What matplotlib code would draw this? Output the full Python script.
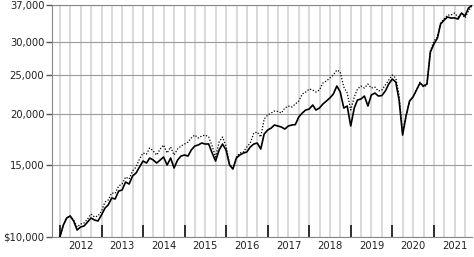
import numpy as np
import pandas as pd
import matplotlib
matplotlib.use("Agg")
import matplotlib.pyplot as plt
import matplotlib.dates as mdates
from matplotlib.ticker import FixedLocator, FuncFormatter, NullFormatter

# month-end values, growth of $10,000
months = pd.date_range("2011-12-31", periods=120, freq="ME")

fund = [10000, 10700, 11131, 11256, 10944, 10403, 10580, 10640, 10883, 11131, 11006, 10944,
        11320, 11776, 11977, 12460, 12390, 12960, 13034, 13635, 13482, 14104, 14345, 14838,
        15349, 15177, 15611, 15436, 15177, 15436, 15699, 15006, 15611, 14755, 15436, 15788,
        15877, 15788, 16331, 16704, 16798, 16989, 16893, 16900, 16057, 15349, 16331, 16893,
        16331, 15006, 14672, 15611, 15877, 16057, 16148, 16610, 16893, 16989, 16424, 17873,
        18281, 18488, 18804, 18698, 18593, 18384, 18698, 18804, 18850, 19671, 20120, 20463,
        20579, 21048, 20463, 20695, 21167, 21528, 21896, 22395, 23428, 22649, 20695, 20930,
        18698, 20695, 21650, 21773, 22143, 20930, 22269, 22521, 22143, 22200, 22777, 23693,
        24371, 23962, 21650, 17772, 19782, 21528, 22019, 22906, 23828, 23428, 23693, 28379,
        29688, 30710, 33232, 33991, 34570, 34377, 34400, 34183, 35359, 34765, 36370, 36900]

benchmark = [10000, 10700, 11131, 11256, 11006, 10580, 10760, 10822, 11068, 11384, 11193, 11256,
             11578, 12182, 12320, 12815, 12790, 13331, 13482, 14025, 13868, 14508, 14838, 15523,
             16057, 15967, 16517, 16239, 15877, 16424, 16798, 16057, 16610, 15877, 16424, 16704,
             16893, 17085, 17475, 17772, 17475, 17672, 17772, 17573, 16704, 15699, 17085, 17573,
             16704, 15091, 14755, 15699, 16057, 16148, 16610, 16989, 17974, 18075, 17573, 19451,
             19894, 20120, 20348, 20300, 20120, 20695, 20930, 20812, 21167, 21528, 22395, 22649,
             23035, 22906, 22649, 22906, 23828, 24098, 24509, 24927, 25640, 25352, 23296, 22521,
             20463, 22019, 23035, 23428, 23166, 23693, 23166, 23296, 22777, 22906, 23560, 24234,
             24927, 24509, 22269, 17973, 19782, 21528, 22019, 22906, 23962, 23296, 23560, 28540,
             30195, 30883, 33421, 34183, 34962, 34962, 35359, 34570, 35359, 34377, 35760, 36900]

y_ticks = [10000, 15000, 20000, 25000, 30000, 37000]
years = list(range(2012, 2022))

fig = plt.figure(figsize=(4.74, 2.57), dpi=100)
ax = fig.add_axes([52 / 474, 1 - 237 / 257, 420 / 474, 232 / 257])

ax.plot(months, benchmark, color="black", lw=0.9, linestyle=(0, (1, 1.4)), zorder=3)
ax.plot(months, fund, color="black", lw=1.2, zorder=4)

ax.set_yscale("log")
ax.set_ylim(10000, 37000)
ax.yaxis.set_major_locator(FixedLocator(y_ticks))
ax.yaxis.set_minor_locator(FixedLocator([]))
ax.yaxis.set_major_formatter(FuncFormatter(
    lambda v, p: ("$" if v == 10000 else "") + f"{int(round(v)):,}"))
ax.yaxis.set_minor_formatter(NullFormatter())

ax.set_xlim(pd.Timestamp("2011-10-23"), pd.Timestamp("2021-12-01"))
year_starts = [pd.Timestamp(f"{y}-01-01") for y in years]
mid_years = [pd.Timestamp(f"{y}-07-02") for y in years]
ax.xaxis.set_major_locator(FixedLocator(mdates.date2num(year_starts)))
ax.xaxis.set_minor_locator(FixedLocator(mdates.date2num(mid_years)))
ax.xaxis.set_major_formatter(NullFormatter())
ax.xaxis.set_minor_formatter(FuncFormatter(lambda v, p: str(mdates.num2date(v).year)))

ax.tick_params(axis="x", which="major", direction="in", length=9, width=1.1, color="black")
ax.tick_params(axis="x", which="minor", length=0, pad=3, labelsize=7.2, colors="#222222")
ax.tick_params(axis="y", which="major", direction="out", length=4, width=1, color="#555555",
               pad=1.5, labelsize=7.2, labelcolor="#222222")

# quarterly vertical grid
quarters = pd.date_range("2012-01-01", "2021-10-01", freq="QS")
for q in quarters:
    ax.axvline(q, color="#d0d0d0", lw=1.1, zorder=1)
for v in y_ticks:
    ax.axhline(v, color="#9a9a9a", lw=0.8, zorder=2)

for s in ["left", "bottom", "top"]:
    ax.spines[s].set_color("#888888")
    ax.spines[s].set_linewidth(0.8)
ax.spines["right"].set_visible(False)

fig.savefig("out.png", dpi=100)
